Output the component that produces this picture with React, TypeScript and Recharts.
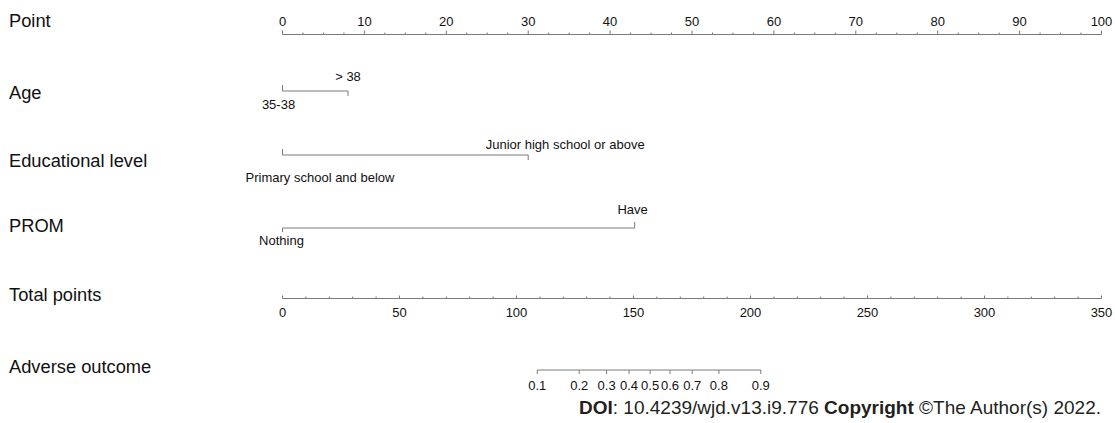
import React from 'react';
import { ComposedChart, Line, XAxis, YAxis } from 'recharts';

// ---------- data ----------
const pointAxisTicks = [
  0, 2.5, 5, 7.5, 10, 12.5, 15, 17.5, 20, 22.5, 25, 27.5, 30, 32.5, 35, 37.5, 40, 42.5, 45, 47.5,
  50, 52.5, 55, 57.5, 60, 62.5, 65, 67.5, 70, 72.5, 75, 77.5, 80, 82.5, 85, 87.5, 90, 92.5, 95, 97.5, 100,
];
const pointAxisLabels = [0, 10, 20, 30, 40, 50, 60, 70, 80, 90, 100];

const totalAxisTicks = [
  0, 10, 20, 30, 40, 50, 60, 70, 80, 90, 100, 110, 120, 130, 140, 150, 160, 170, 180, 190,
  200, 210, 220, 230, 240, 250, 260, 270, 280, 290, 300, 310, 320, 330, 340, 350,
];
const totalAxisLabels = [0, 50, 100, 150, 200, 250, 300, 350];

const ageLevels = ['35-38', '> 38'];
const agePoints = [0, 8];

const eduLevels = ['Primary school and below', 'Junior high school or above'];
const eduPoints = [0, 30];

const promLevels = ['Nothing', 'Have'];
const promPoints = [0, 43];

const probLabels = ['0.1', '0.2', '0.3', '0.4', '0.5', '0.6', '0.7', '0.8', '0.9'];
const probTotalPoints = [108.9, 126.8, 138.5, 148.1, 157.1, 165.6, 175.1, 186.5, 204.4];

const rowNames = ['Point', 'Age', 'Educational level', 'PROM', 'Total points', 'Adverse outcome'];

// ---------- layout / style ----------
const W = 1115;
const H = 423;
const FONT = '"Liberation Sans", Arial, Helvetica, sans-serif';
const LINE = '#7a7a7a';
const TEXT = '#111';
const MARGIN_L = 282.5;
const MARGIN_R = 13.5;
const TICK_FS = 13;

const rowNameBaselines = [27.3, 99.3, 167.3, 231.7, 300.7, 372.7];

type LevelStyle = { tick: number; dx: number; dy: number };

const catRows = [
  {
    key: 'age',
    levels: ageLevels,
    points: agePoints,
    lineY: 90.5,
    style: [
      { tick: -6, dx: -4, dy: 18 },
      { tick: 5, dx: 0, dy: -10 },
    ] as LevelStyle[],
  },
  {
    key: 'edu',
    levels: eduLevels,
    points: eduPoints,
    lineY: 154.5,
    style: [
      { tick: -6, dx: 37.5, dy: 26.5 },
      { tick: 5, dx: 37, dy: -6 },
    ] as LevelStyle[],
  },
  {
    key: 'prom',
    levels: promLevels,
    points: promPoints,
    lineY: 227.5,
    style: [
      { tick: 4, dx: -1, dy: 16.5 },
      { tick: -6, dx: -2, dy: -14.5 },
    ] as LevelStyle[],
  },
];

const PointTick = (props: any) => {
  const { x, y, payload } = props;
  const v = payload.value as number;
  const major = pointAxisLabels.includes(v);
  return (
    <g>
      <line x1={x} x2={x} y1={y} y2={y - (major ? 4 : 2)} stroke={LINE} strokeWidth={1} />
      {major && (
        <text x={x} y={y - 9} textAnchor="middle" fontSize={TICK_FS} fontFamily={FONT} fill={TEXT}>
          {v}
        </text>
      )}
    </g>
  );
};

const TotalTick = (props: any) => {
  const { x, y, payload } = props;
  const v = payload.value as number;
  const major = totalAxisLabels.includes(v);
  return (
    <g>
      <line x1={x} x2={x} y1={y} y2={y - (major ? 3 : 2)} stroke={LINE} strokeWidth={1} />
      {major && (
        <text x={x} y={y + 18.5} textAnchor="middle" fontSize={TICK_FS} fontFamily={FONT} fill={TEXT}>
          {v}
        </text>
      )}
    </g>
  );
};

const CatRow = ({ row }: { row: (typeof catRows)[number] }) => {
  const data = row.levels.map((level, i) => ({ level, pts: row.points[i], y: 0 }));
  const renderDot = (p: any) => {
    const { cx, cy, index } = p;
    const st = row.style[index];
    return (
      <g key={`${row.key}-${index}`}>
        <line x1={cx} x2={cx} y1={cy} y2={cy + st.tick} stroke={LINE} strokeWidth={1} />
        <text
          x={cx + st.dx}
          y={cy + st.dy}
          textAnchor="middle"
          fontSize={13}
          fontFamily={FONT}
          fill={TEXT}
        >
          {data[index].level}
        </text>
      </g>
    );
  };
  return (
    <div style={{ position: 'absolute', left: 0, top: row.lineY - 30 }}>
      <ComposedChart
        width={W}
        height={60}
        data={data}
        margin={{ top: 0, right: MARGIN_R, bottom: 0, left: MARGIN_L }}
      >
        <XAxis type="number" dataKey="pts" domain={[0, 100]} hide />
        <YAxis type="number" domain={[-1, 1]} hide />
        <Line
          dataKey="y"
          stroke={LINE}
          strokeWidth={1}
          isAnimationActive={false}
          dot={renderDot}
          activeDot={false}
        />
      </ComposedChart>
    </div>
  );
};

export default function App() {
  const pointData = pointAxisTicks.map((pts) => ({ pts }));
  const totalData = totalAxisTicks.map((tp) => ({ tp }));
  const probData = probLabels.map((label, i) => ({ label, tp: probTotalPoints[i], y: 0 }));

  const renderProbDot = (p: any) => {
    const { cx, cy, index } = p;
    return (
      <g key={`prob-${index}`}>
        <line x1={cx} x2={cx} y1={cy} y2={cy + 4} stroke={LINE} strokeWidth={1} />
        <text x={cx} y={cy + 20} textAnchor="middle" fontSize={TICK_FS} fontFamily={FONT} fill={TEXT}>
          {probData[index].label}
        </text>
      </g>
    );
  };

  return (
    <div
      style={{
        position: 'absolute',
        left: 0,
        top: 0,
        width: W,
        height: H,
        background: '#fff',
        overflow: 'hidden',
        fontFamily: FONT,
      }}
    >
      {/* Row names and source line */}
      <svg width={W} height={H} style={{ position: 'absolute', left: 0, top: 0 }}>
        {rowNames.map((name, i) => (
          <text key={name} x={9} y={rowNameBaselines[i]} fontSize={18.3} fontFamily={FONT} fill={TEXT}>
            {name}
          </text>
        ))}
        <text x={1101} y={414} textAnchor="end" fontSize={19} fontFamily={FONT} fill="#231f20">
          <tspan fontWeight="bold">DOI</tspan>
          <tspan>: 10.4239/wjd.v13.i9.776 </tspan>
          <tspan fontWeight="bold">Copyright</tspan>
          <tspan> ©The Author(s) 2022.</tspan>
        </text>
      </svg>

      {/* Point axis */}
      <div style={{ position: 'absolute', left: 0, top: 0 }}>
        <ComposedChart
          width={W}
          height={40}
          data={pointData}
          margin={{ top: 0, right: MARGIN_R, bottom: 0, left: MARGIN_L }}
        >
          <XAxis
            type="number"
            dataKey="pts"
            orientation="top"
            domain={[0, 100]}
            ticks={pointAxisTicks}
            interval={0}
            height={34.5}
            tickSize={0}
            tickMargin={0}
            tickLine={false}
            axisLine={{ stroke: LINE, strokeWidth: 1 }}
            tick={<PointTick />}
          />
          <YAxis type="number" domain={[0, 1]} hide />
        </ComposedChart>
      </div>

      {catRows.map((row) => (
        <CatRow key={row.key} row={row} />
      ))}

      {/* Total points axis */}
      <div style={{ position: 'absolute', left: 0, top: 270 }}>
        <ComposedChart
          width={W}
          height={50}
          data={totalData}
          margin={{ top: 0, right: MARGIN_R, bottom: 0, left: MARGIN_L }}
        >
          <XAxis
            type="number"
            dataKey="tp"
            orientation="bottom"
            domain={[0, 350]}
            ticks={totalAxisTicks}
            interval={0}
            height={21.5}
            tickSize={0}
            tickMargin={0}
            tickLine={false}
            axisLine={{ stroke: LINE, strokeWidth: 1 }}
            tick={<TotalTick />}
          />
          <YAxis type="number" domain={[0, 1]} hide />
        </ComposedChart>
      </div>

      {/* Adverse outcome scale */}
      <div style={{ position: 'absolute', left: 0, top: 369.5 - 30 }}>
        <ComposedChart
          width={W}
          height={60}
          data={probData}
          margin={{ top: 0, right: MARGIN_R, bottom: 0, left: MARGIN_L }}
        >
          <XAxis type="number" dataKey="tp" domain={[0, 350]} hide />
          <YAxis type="number" domain={[-1, 1]} hide />
          <Line
            dataKey="y"
            stroke={LINE}
            strokeWidth={1}
            isAnimationActive={false}
            dot={renderProbDot}
            activeDot={false}
          />
        </ComposedChart>
      </div>
    </div>
  );
}
